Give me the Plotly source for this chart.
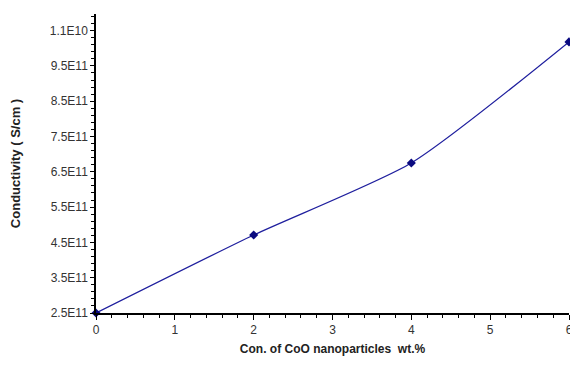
import plotly.graph_objects as go

conc = [0, 2, 4, 6]
conductivity = [2.5e11, 4.71e11, 6.75e11, 10.18e11]
x_ticks = [0, 1, 2, 3, 4, 5, 6]
y_tickvals = [2.5e11, 3.5e11, 4.5e11, 5.5e11, 6.5e11, 7.5e11, 8.5e11, 9.5e11, 10.5e11]
y_ticktext = ["2.5E11", "3.5E11", "4.5E11", "5.5E11", "6.5E11", "7.5E11", "8.5E11", "9.5E11", "1.1E10"]

fig = go.Figure()
fig.add_trace(go.Scatter(
    x=conc, y=conductivity, mode="lines+markers",
    line=dict(color="#1f1f9e", width=1.3, shape="spline", smoothing=0.6),
    marker=dict(symbol="diamond", size=7, color="#0a0a80"),
    cliponaxis=False,
    showlegend=False,
))

font = "Liberation Sans, Arial, sans-serif"
fig.update_layout(
    width=570, height=368,
    margin=dict(l=88, r=5, t=6, b=63),
    plot_bgcolor="white", paper_bgcolor="white",
    font=dict(family=font, size=12, color="#222"),
    xaxis=dict(
        range=[0, 6], tickvals=x_ticks, showgrid=False, zeroline=False,
        showline=True, linecolor="black", linewidth=1.5,
        ticks="outside", ticklen=5, tickwidth=1.2, tickcolor="black",
        minor=dict(dtick=0.2, ticks="outside", ticklen=3, tickwidth=1.2, tickcolor="black"),
        tickfont=dict(size=12, color="#333"),
        title=dict(text="<b>Con. of CoO nanoparticles  wt.%</b>", font=dict(size=12, color="#222"), standoff=8),
    ),
    yaxis=dict(
        range=[2.5e11, 10.97e11], tickvals=y_tickvals, ticktext=y_ticktext,
        showgrid=False, zeroline=False,
        showline=True, linecolor="black", linewidth=1.5,
        ticks="outside", ticklen=4, tickwidth=1.2, tickcolor="black",
        minor=dict(dtick=0.2e11, tick0=2.5e11, ticks="outside", ticklen=3, tickwidth=1.2, tickcolor="black"),
        tickfont=dict(size=12, color="#333"),
        title=dict(text="<b>Conductivity ( S/cm )</b>", font=dict(size=13, color="#222"), standoff=26),
    ),
)
fig.write_html("out.html")
